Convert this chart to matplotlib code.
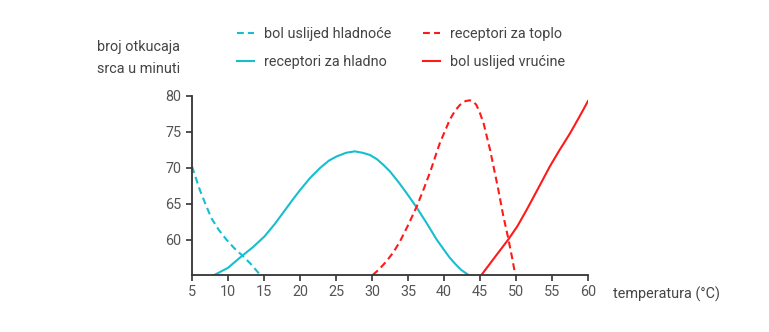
import numpy as np
import matplotlib
matplotlib.use("Agg")
import matplotlib.pyplot as plt

plt.rcParams['font.family'] = ['Roboto', 'DejaVu Sans']

# values
cold_pain_t = [5.0, 5.5, 6.1, 6.9, 7.7, 8.7, 9.8, 10.9, 12.0, 13.1, 14.4]
cold_pain_bpm = [70.2, 68.7, 66.9, 64.9, 63.0, 61.4, 60.0, 58.8, 57.8, 56.7, 55.2]

cold_rec_t = [8.1, 10.0, 12.0, 13.5, 15.1, 16.5, 17.9, 19.0, 20.0, 21.4, 22.8,
              24.0, 25.1, 26.4, 27.6, 28.7, 29.7, 30.7, 31.6, 32.5, 33.7, 34.8,
              36.2, 37.6, 39.0, 40.0, 40.8, 41.6, 42.4, 43.4]
cold_rec_bpm = [55.1, 56.1, 57.8, 59.0, 60.5, 62.2, 64.1, 65.6, 66.9, 68.6, 70.0,
                71.0, 71.6, 72.1, 72.3, 72.1, 71.8, 71.2, 70.4, 69.5, 68.0, 66.5,
                64.5, 62.3, 60.0, 58.6, 57.5, 56.6, 55.8, 55.1]

warm_rec_t = [30.1, 31.0, 32.0, 33.0, 33.9, 35.0, 36.2, 37.2, 38.1, 39.4, 40.8,
              41.5, 42.2, 43.0, 43.6, 44.1, 44.5, 45.0, 45.5, 46.4, 47.5, 48.2,
              48.9, 49.5, 49.9]
warm_rec_bpm = [55.1, 55.9, 57.0, 58.3, 59.8, 62.0, 64.6, 67.1, 69.5, 73.4, 76.7,
                77.9, 78.75, 79.3, 79.4, 79.2, 78.75, 77.6, 76.2, 72.5, 67.2, 63.5,
                60.3, 57.3, 55.1]

heat_pain_t = [45.2, 47.0, 48.9, 50.2, 51.5, 53.0, 54.7, 56.0, 57.5, 58.8, 60.0]
heat_pain_bpm = [55.1, 57.5, 60.0, 61.9, 64.2, 67.0, 70.2, 72.4, 74.8, 77.1, 79.3]

xticks = [5, 10, 15, 20, 25, 30, 35, 40, 45, 50, 55, 60]
yticks = [60, 65, 70, 75, 80]

cyan = '#17becf'
red = '#ff1a1a'
dash = (0, (3.3, 2.0))

fig = plt.figure(figsize=(7.69, 3.32), dpi=100)
ax = fig.add_axes([192 / 769, 57 / 332, 396 / 769, 179 / 332])

ax.plot(cold_pain_t, cold_pain_bpm, color=cyan, lw=1.5, ls=dash, label='bol uslijed hladnoće')
ax.plot(cold_rec_t, cold_rec_bpm, color=cyan, lw=1.5, label='receptori za hladno')
ax.plot(warm_rec_t, warm_rec_bpm, color=red, lw=1.5, ls=dash, label='receptori za toplo')
ax.plot(heat_pain_t, heat_pain_bpm, color=red, lw=1.5, label='bol uslijed vrućine')

ax.set_xlim(5, 60)
ax.set_ylim(55.1, 80)
ax.set_xticks(xticks)
ax.set_yticks(yticks)

for s in ['top', 'right']:
    ax.spines[s].set_visible(False)
for s in ['left', 'bottom']:
    ax.spines[s].set_color('#333333')
    ax.spines[s].set_linewidth(1.3)
ax.tick_params(direction='out', length=4, width=1.2, color='#333333',
               labelcolor='#555555', labelsize=10.4)

fig.text(97 / 769, 1 - 58 / 332, 'broj otkucaja\nsrca u minuti', ha='left', va='center',
         fontsize=10.4, color='#444444', linespacing=1.75)
fig.text(613 / 769, 1 - 294 / 332, 'temperatura (°C)', ha='left', va='center',
         fontsize=10.4, color='#444444')

leg = fig.legend(loc='upper left', bbox_to_anchor=(224 / 769, 1 - 14 / 332), ncol=2,
                 frameon=False, fontsize=10.4, handlelength=1.15, handletextpad=0.72,
                 columnspacing=2.2, labelspacing=0.95, labelcolor='#444444')

fig.savefig('out.png', dpi=100)
